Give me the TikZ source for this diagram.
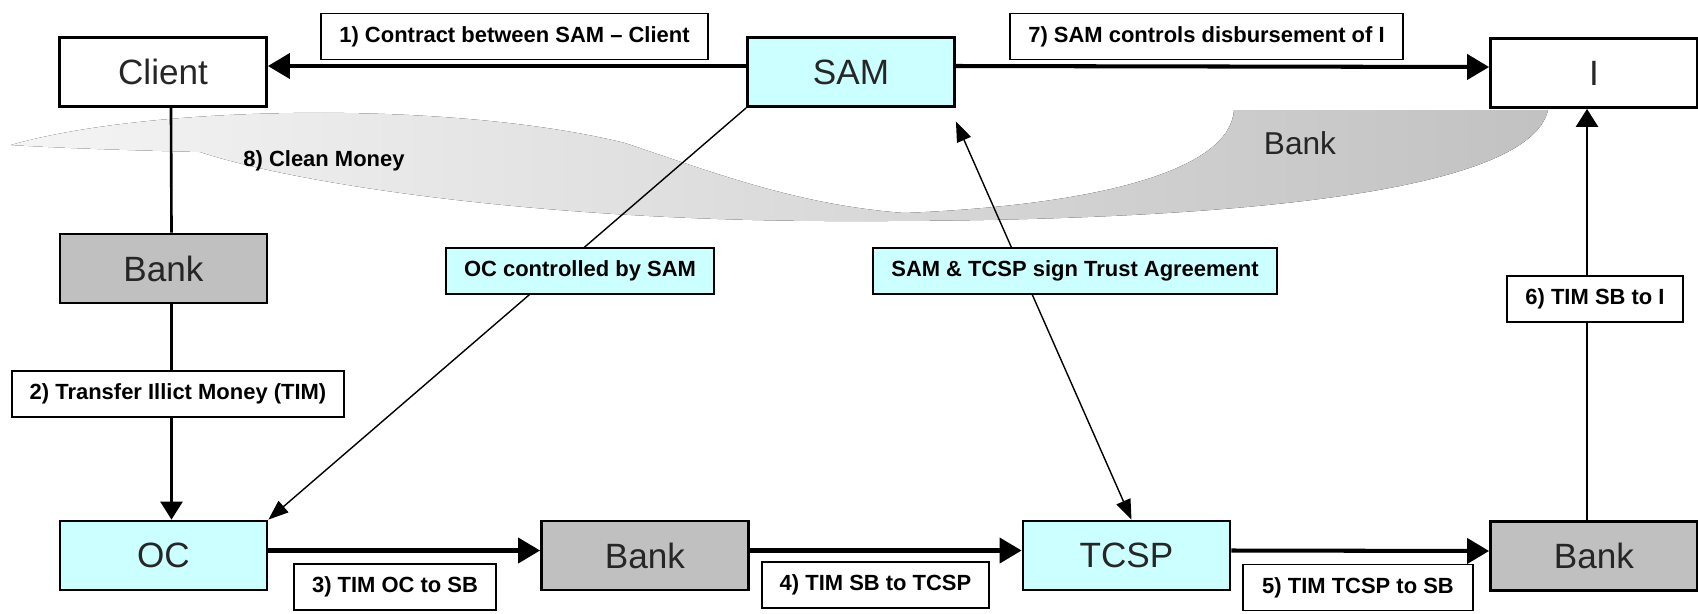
\documentclass[tikz,border=0pt]{standalone}
\usepackage{fontspec}
\setmainfont{Liberation Sans}
\usetikzlibrary{arrows.meta}
\definecolor{samcyan}{HTML}{CCFFFF}
\definecolor{bankgray}{HTML}{C0C0C0}

\begin{document}
\begin{tikzpicture}[x=0.02cm,y=-0.02cm,
  party/.style={draw,line width=1.6pt,minimum width=4.14cm,minimum height=1.38cm,inner sep=0pt,
    font=\fontsize{20}{24}\selectfont,text=black!85},
  cyanbox/.style={party,fill=samcyan},
  bankbox/.style={party,fill=bankgray},
  tag/.style={draw,line width=1pt,fill=white,minimum height=0.92cm,inner sep=0pt,
    font=\bfseries\fontsize{12.5}{15}\selectfont},
  flow/.style={line width=2.3pt,-{Triangle[length=0.44cm,width=0.5cm]}},
  link/.style={line width=1.5pt},
  fineline/.style={line width=0.8pt},
  slimtip/.tip={Triangle[length=0.4cm,width=0.3cm]}]
\useasboundingbox (0,0) rectangle (1698,613);

% grey swoosh behind the top row
\fill[left color=black!4,right color=black!24]
  (11,145) .. controls (150,105) and (450,100) .. (625,143)
  .. controls (720,175) and (800,205) .. (904,213)
  .. controls (1100,205) and (1230,170) .. (1234,110) -- (1548,110)
  .. controls (1530,190) and (1250,222) .. (850,221)
  .. controls (550,222) and (300,185) .. (200,152)
  .. controls (120,150) and (60,148) .. (11,145) -- cycle;
\node[font=\bfseries\fontsize{12.5}{15}\selectfont] (clean) at (324,161) {8) Clean Money};
\node[font=\fontsize{18}{22}\selectfont,text=black!85] (swbank) at (1300,143) {Bank};

% parties
\node[party] (client) at (163,72) {Client};
\node[cyanbox] (sam) at (851,72) {SAM};
\node[party] (inv) at (1594,73) {I};
\node[bankbox] (bankA) at (163.5,268.5) {Bank};
\node[cyanbox] (oc) at (163.5,555.5) {OC};
\node[bankbox] (bankB) at (645,555.5) {Bank};
\node[cyanbox] (tcsp) at (1126.5,555.5) {TCSP};
\node[bankbox] (bankC) at (1594,556) {Bank};

% flows
\draw[flow] ([yshift=0.12cm]sam.west) -- ([yshift=0.12cm]client.east);
\draw[flow] ([yshift=0.12cm]sam.east) -- ([yshift=0.12cm]inv.west);
\draw[link] ([xshift=0.16cm]client.south) -- ([xshift=0.16cm]bankA.north);
\draw[link,-{Triangle[length=0.36cm,width=0.44cm]}] ([xshift=0.16cm]bankA.south) -- ([xshift=0.16cm]oc.north);
\draw[flow] ([yshift=0.1cm]oc.east) -- ([yshift=0.1cm]bankB.west);
\draw[flow] ([yshift=0.1cm]bankB.east) -- ([yshift=0.1cm]tcsp.west);
\draw[flow] ([yshift=0.1cm]tcsp.east) -- ([yshift=0.1cm]bankC.west);
\draw[link,-{Triangle[length=0.36cm,width=0.44cm]}] ([xshift=-0.14cm]bankC.north) -- ([xshift=-0.14cm]inv.south);
\draw[fineline,-slimtip] (sam.south west) -- (oc.north east);
\draw[fineline,slimtip-slimtip,shorten <=0.3cm] ([xshift=-0.12cm]sam.south east) -- ([xshift=0.1cm]tcsp.north);

% step labels
\node[tag,minimum width=7.74cm] (tag1) at (514.5,36.5) {1) Contract between SAM -- Client};
\node[tag,minimum width=7.86cm] (tag7) at (1206.5,36.5) {7) SAM controls disbursement of I};
\node[tag,fill=samcyan,minimum width=5.36cm] (tagoc) at (580,271) {OC controlled by SAM};
\node[tag,fill=samcyan,minimum width=8.08cm] (tagtrust) at (1075,271) {SAM \& TCSP sign Trust Agreement};
\node[tag,minimum width=3.52cm] (tag6) at (1595,299) {6) TIM SB to I};
\node[tag,minimum width=6.64cm] (tag2) at (178,394) {2) Transfer Illict Money (TIM)};
\node[tag,minimum width=4.04cm] (tag3) at (395,587) {3) TIM OC to SB};
\node[tag,minimum width=4.54cm] (tag4) at (875.5,585) {4) TIM SB to TCSP};
\node[tag,minimum width=4.6cm] (tag5) at (1358,587.5) {5) TIM TCSP to SB};
\end{tikzpicture}
\end{document}
